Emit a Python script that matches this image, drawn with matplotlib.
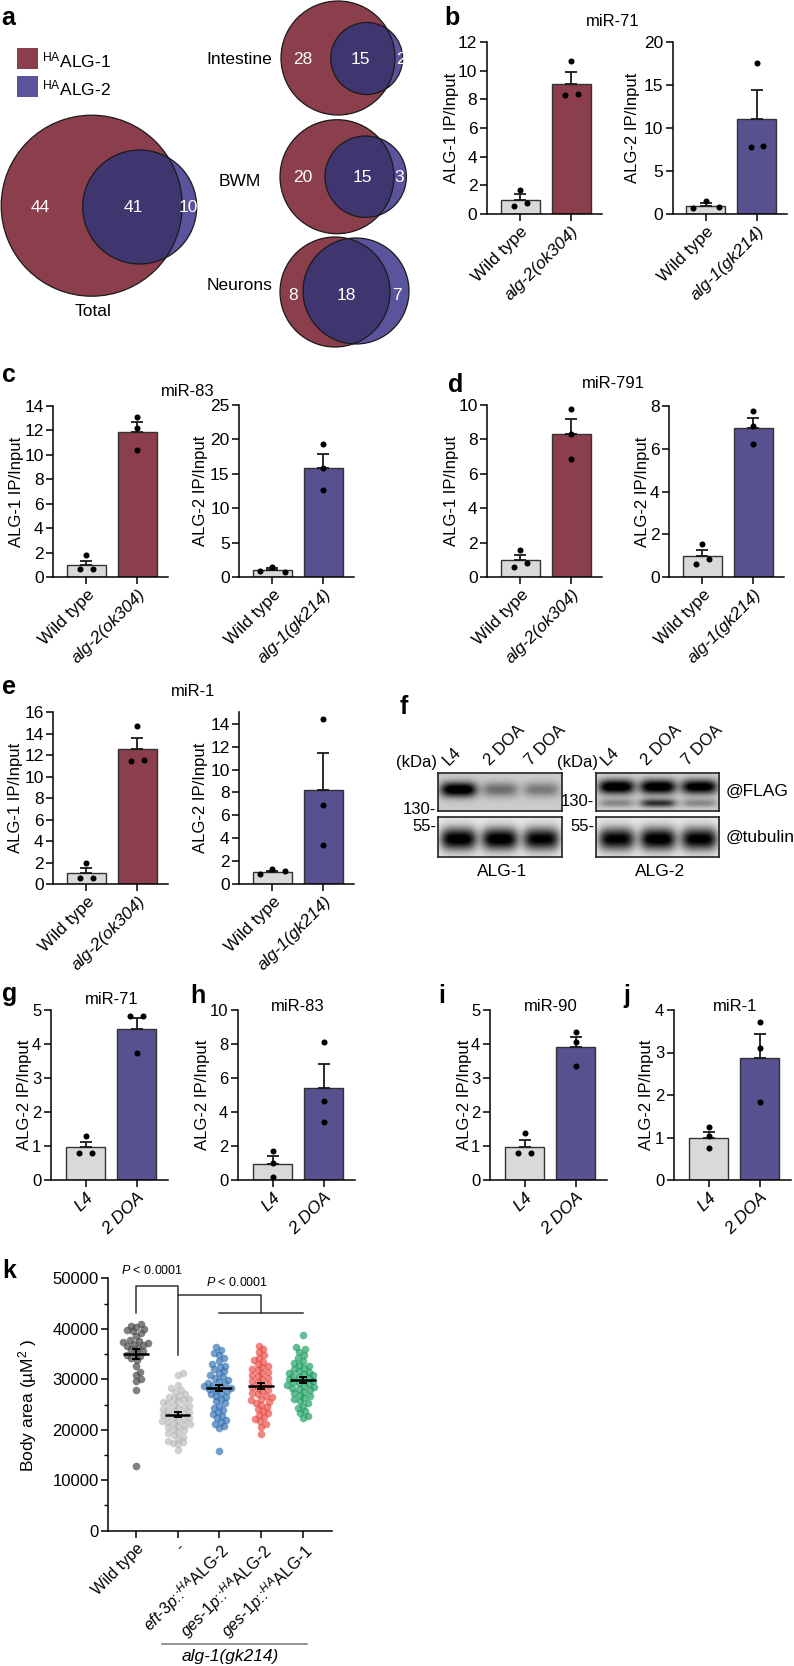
import numpy as np
import matplotlib
matplotlib.use('Agg')
import matplotlib.pyplot as plt
from matplotlib.patches import Circle, Rectangle
from matplotlib.lines import Line2D

plt.rcParams['font.family'] = ['Liberation Sans', 'DejaVu Sans']
plt.rcParams['mathtext.fontset'] = 'custom'
plt.rcParams['mathtext.rm'] = 'Liberation Sans'
plt.rcParams['mathtext.it'] = 'Liberation Sans:italic'
plt.rcParams['mathtext.bf'] = 'Liberation Sans:bold'
plt.rcParams['axes.linewidth'] = 1.1

# ---------------- DATA ----------------
venn_sets = ['Total', 'Intestine', 'BWM', 'Neurons']
venn_alg1_only = [44, 28, 20, 8]
venn_both = [41, 15, 15, 18]
venn_alg2_only = [10, 2, 3, 7]

mut_labels_1 = ['Wild type', 'alg-2(ok304)']
mut_labels_2 = ['Wild type', 'alg-1(gk214)']
age_labels = ['L4', '2 DOA']

# b: miR-71
b1_means = [1.0, 9.06];  b1_err = [0.37, 0.84]
b1_wt = [0.56, 1.68, 0.79]; b1_mut = [8.32, 10.65, 8.35]
b2_means = [0.97, 11.07]; b2_err = [0.3, 3.33]
b2_wt = [0.66, 1.51, 0.85]; b2_mut = [7.84, 17.55, 7.96]
# c: miR-83
c1_means = [0.98, 11.85]; c1_err = [0.38, 0.85]
c1_wt = [0.65, 1.82, 0.65]; c1_mut = [13.04, 12.2, 10.38]
c2_means = [1.06, 15.9]; c2_err = [0.25, 2.0]
c2_wt = [0.92, 1.55, 0.82]; c2_mut = [19.4, 15.8, 12.6]
# d: miR-791
d1_means = [1.0, 8.3]; d1_err = [0.3, 0.87]
d1_wt = [0.62, 1.59, 0.85]; d1_mut = [9.75, 8.32, 6.89]
d2_means = [0.99, 6.97]; d2_err = [0.28, 0.47]
d2_wt = [0.62, 1.54, 0.87]; d2_mut = [7.76, 7.05, 6.21]
# e: miR-1
e1_means = [0.99, 12.55]; e1_err = [0.47, 1.08]
e1_wt = [0.56, 1.93, 0.56]; e1_mut = [11.46, 14.75, 11.55]
e2_means = [1.01, 8.24]; e2_err = [0.12, 3.24]
e2_wt = [0.84, 1.3, 1.13]; e2_mut = [14.38, 6.94, 3.38]
# g-j: ALG-2 IP, L4 vs 2 DOA
g_means = [0.98, 4.44]; g_err = [0.15, 0.33]
g_l4 = [0.8, 1.29, 0.8]; g_doa = [4.83, 3.75, 4.83]
h_means = [0.96, 5.39]; h_err = [0.45, 1.41]
h_l4 = [1.73, 1.02, 0.2]; h_doa = [8.1, 4.67, 3.43]
i_means = [0.98, 3.92]; i_err = [0.2, 0.3]
i_l4 = [0.78, 1.37, 0.8]; i_doa = [4.36, 4.07, 3.35]
j_means = [0.98, 2.88]; j_err = [0.14, 0.55]
j_l4 = [1.25, 1.03, 0.75]; j_doa = [3.71, 3.1, 1.84]

# f: western blot band intensities (relative darkness per lane)
blot_lanes = ['L4', '2 DOA', '7 DOA']
alg1_flag = [0.95, 0.38, 0.33]
alg1_tub = [1.0, 1.0, 0.95]
alg2_flag_upper = [0.97, 0.97, 0.93]
alg2_flag_lower = [0.3, 0.65, 0.3]
alg2_tub = [0.95, 1.0, 0.97]

# k: body area
k_labels = ['Wild type', '-', 'eft-3p::HA ALG-2', 'ges-1p::HA ALG-2', 'ges-1p::HA ALG-1']
k_wt = [40900, 40600, 40300, 40000, 39800, 39500, 39200, 38600, 37800, 37600, 37400,
        37200, 37000, 36800, 36500, 36200, 35900, 35600, 35200, 34900, 34600, 34200,
        33800, 32700, 31500, 30800, 30100, 29600, 27800, 12900]
k_mut = [31300, 30900, 28800, 28300, 27800, 27500, 27000, 26700, 26500, 26300, 26000,
         25800, 25600, 25400, 25200, 25000, 24800, 24600, 24400, 24200, 24000, 23800,
         23600, 23400, 23200, 23000, 22800, 22600, 22400, 22200, 22000, 21800, 21600,
         21400, 21200, 21000, 20800, 20500, 20200, 19900, 19600, 19300, 19000, 18600,
         18200, 17800, 17500, 17300, 17100, 16000]
k_eft = [36300, 35800, 35300, 34800, 34300, 33600, 33000, 32700, 32400, 32000, 31600,
         31300, 30800, 30500, 30200, 29900, 29600, 29300, 29000, 28800, 28600, 28400,
         28200, 28000, 27800, 27600, 27300, 27000, 26700, 26400, 26000, 25600, 25200,
         24800, 24400, 24000, 23600, 23200, 22800, 22400, 22000, 21600, 21200, 20800,
         20400, 15700]
k_ges2 = [36600, 36000, 35400, 34800, 34300, 33900, 33500, 33100, 32700, 32400, 32100,
          31800, 31500, 31200, 30900, 30600, 30300, 30000, 29700, 29400, 29100, 28800,
          28500, 28200, 27900, 27600, 27300, 27000, 26700, 26400, 26100, 25800, 25500,
          25200, 24900, 24500, 24100, 23700, 23300, 22900, 22500, 22100, 21700, 21200,
          20600, 19200]
k_ges1 = [38700, 36300, 35900, 35400, 34800, 34200, 33700, 33300, 32900, 32600, 32300,
          32000, 31700, 31400, 31200, 31000, 30800, 30600, 30400, 30200, 30000, 29800,
          29600, 29400, 29200, 29000, 28800, 28600, 28400, 28200, 28000, 27800, 27500,
          27200, 26900, 26600, 26300, 26000, 25700, 25300, 24800, 24300, 23800, 23300,
          22800, 22300]
k_means = [35000, 23000, 28300, 28700, 29800]
k_sem = [950, 550, 650, 600, 550]

# ---------------- STYLE ----------------
RED = '#8b3f4c'
BLUE = '#57518f'
GRAY = '#d9d9d9'
V_RED = '#8b3e4b'
V_BLUE = '#5a549c'
V_OVER = '#3f3670'
K_COLORS = ['#4a4a4a', '#b3b3b3', '#2a6cae', '#e8463f', '#14985a']
K_ALPHA = [0.7, 0.6, 0.65, 0.65, 0.65]

W, H = 794, 1666
fig = plt.figure(figsize=(W / 100, H / 100), dpi=100)


def add_ax(left, top, width, height):
    return fig.add_axes([left / W, 1 - (top + height) / H, width / W, height / H])


def T(x, y, s, **kw):
    return fig.text(x / W, 1 - y / H, s, **kw)


def cluster_offsets(vals, px_per_unit, thresh=6.0, step=12.7):
    vals = np.asarray(vals, float)
    order = np.argsort(vals, kind='stable')
    clusters, cur = [], [order[0]]
    for a, b in zip(order[:-1], order[1:]):
        if (vals[b] - vals[a]) * px_per_unit < thresh:
            cur.append(b)
        else:
            clusters.append(cur)
            cur = [b]
    clusters.append(cur)
    offs = np.zeros(len(vals))
    for c in clusters:
        c = sorted(c)
        m = len(c)
        for k, idx in enumerate(c):
            offs[idx] = (k - (m - 1) / 2) * step
    return offs


def bar_panel(left, top, bottom, ymax, yticks, labels, means, errs, pts, colors,
              ylabel, ylabel_dx, xlim=(-0.65, 1.6), span=51.0, italic=(1,),
              tick_fs=12.5, xtick_fs=12.5):
    width = (xlim[1] - xlim[0]) * span
    ax = add_ax(left, top, width, bottom - top)
    ax.set_xlim(*xlim)
    ax.set_ylim(0, ymax)
    x = np.arange(len(means))
    ax.bar(x, means, width=0.76, color=colors, edgecolor='#333333', linewidth=1.0, zorder=2)
    ax.errorbar(x, means, yerr=np.vstack([np.zeros(len(errs)), errs]), fmt='none',
                ecolor='#1a1a1a', elinewidth=1.3, capsize=4, capthick=1.3, zorder=3)
    ppu = (bottom - top) / ymax
    for i, p in enumerate(pts):
        offs = cluster_offsets(p, ppu)
        ax.scatter(i + offs / span, p, s=19, color='black', linewidths=0, zorder=4,
                   clip_on=False)
    for s in ['top', 'right']:
        ax.spines[s].set_visible(False)
    ax.set_yticks(yticks)
    ax.set_xticks(x)
    ax.set_xticklabels(labels, rotation=45, ha='right', rotation_mode='anchor',
                       fontsize=xtick_fs)
    for idx in italic:
        ax.get_xticklabels()[idx].set_fontstyle('italic')
    ax.tick_params(axis='both', direction='out', length=5, width=1.1, pad=2)
    ax.tick_params(axis='y', labelsize=tick_fs)
    T(left - ylabel_dx, (top + bottom) / 2, ylabel, rotation=90, ha='center',
      va='center', fontsize=12)
    return ax


# ---------------- PANEL A (Venn) ----------------
ax_a = add_ax(0, 0, 410, 350)
ax_a.set_xlim(0, 410)
ax_a.set_ylim(350, 0)
ax_a.axis('off')

venn_geom = [  # (red cx, cy, r), (blue cx, cy, r), label positions (x1, x12, x2, y)
    ((91.7, 205.7, 90.5), (139.7, 207.0, 57.0), (40, 133, 188, 208)),
    ((338.0, 58.0, 57.0), (366.7, 58.5, 36.0), (303, 360, 401, 59)),
    ((337.0, 176.7, 57.0), (365.7, 176.7, 40.7), (303, 362, 399, 177)),
    ((335.0, 292.0, 55.0), (356.0, 291.0, 53.0), (293, 346, 397, 295)),
]
for k, (rc, bc, lp) in enumerate(venn_geom):
    red = Circle(rc[:2], rc[2], facecolor=V_RED, edgecolor='none', zorder=1)
    ax_a.add_patch(red)
    blue = Circle(bc[:2], bc[2], facecolor=V_BLUE, edgecolor='none', zorder=2)
    ax_a.add_patch(blue)
    over = Circle(bc[:2], bc[2], facecolor=V_OVER, edgecolor='none', zorder=3)
    ax_a.add_patch(over)
    over.set_clip_path(red)
    ax_a.add_patch(Circle(rc[:2], rc[2], facecolor='none', edgecolor='#1a1a1a', lw=0.9, zorder=4))
    ax_a.add_patch(Circle(bc[:2], bc[2], facecolor='none', edgecolor='#1a1a1a', lw=0.9, zorder=4))
    for xx, val in zip(lp[:3], [venn_alg1_only[k], venn_both[k], venn_alg2_only[k]]):
        ax_a.text(xx, lp[3], str(val), color='white', fontsize=12.5, ha='center',
                  va='center', zorder=5)

T(93, 311, venn_sets[0], fontsize=12.5, ha='center', va='center')
T(272, 60, venn_sets[1], fontsize=12.5, ha='right', va='center')
T(240, 182, venn_sets[2], fontsize=12.5, ha='center', va='center')
T(272, 286, venn_sets[3], fontsize=12.5, ha='right', va='center')

ax_a.add_patch(Rectangle((17, 48), 21, 21, facecolor=V_RED, edgecolor='none'))
ax_a.add_patch(Rectangle((17, 76), 21, 21, facecolor=V_BLUE, edgecolor='none'))
T(42, 60, r'$^{\mathrm{HA}}$ALG-1', fontsize=12.5, ha='left', va='center')
T(42, 88, r'$^{\mathrm{HA}}$ALG-2', fontsize=12.5, ha='left', va='center')

# ---------------- PANEL LETTERS ----------------
for lt, x, y in [('a', 1, 25), ('b', 444, 25), ('c', 2, 382), ('d', 448, 392),
                 ('e', 2, 694), ('f', 400, 714), ('g', 2, 1001), ('h', 190, 1003),
                 ('i', 438, 1003), ('j', 623, 1003), ('k', 2, 1278)]:
    T(x, y, lt, fontsize=18, fontweight='bold', ha='left', va='baseline')

# ---------------- PANELS B-E ----------------
T(613, 22, 'miR-71', fontsize=12, ha='center', va='center')
bar_panel(487, 42, 214, 12, np.arange(0, 13, 2), mut_labels_1, b1_means, b1_err,
          [b1_wt, b1_mut], [GRAY, RED], 'ALG-1 IP/Input', 35)
bar_panel(672.7, 42, 214, 20, np.arange(0, 21, 5), mut_labels_2, b2_means, b2_err,
          [b2_wt, b2_mut], [GRAY, BLUE], 'ALG-2 IP/Input', 40)

T(188, 392, 'miR-83', fontsize=12, ha='center', va='center')
bar_panel(53.3, 405.7, 577.3, 14, np.arange(0, 15, 2), mut_labels_1, c1_means, c1_err,
          [c1_wt, c1_mut], [GRAY, RED], 'ALG-1 IP/Input', 36.6)
bar_panel(239.3, 405.0, 577.3, 25, np.arange(0, 26, 5), mut_labels_2, c2_means, c2_err,
          [c2_wt, c2_mut], [GRAY, BLUE], 'ALG-2 IP/Input', 39)

T(613, 383, 'miR-791', fontsize=12, ha='center', va='center')
bar_panel(487.3, 405.0, 577.3, 10, np.arange(0, 11, 2), mut_labels_1, d1_means, d1_err,
          [d1_wt, d1_mut], [GRAY, RED], 'ALG-1 IP/Input', 35.6)
bar_panel(669.3, 405.7, 577.3, 8, np.arange(0, 9, 2), mut_labels_2, d2_means, d2_err,
          [d2_wt, d2_mut], [GRAY, BLUE], 'ALG-2 IP/Input', 27)

T(193, 692, 'miR-1', fontsize=12, ha='center', va='center')
bar_panel(53.3, 712.3, 884, 16, np.arange(0, 17, 2), mut_labels_1, e1_means, e1_err,
          [e1_wt, e1_mut], [GRAY, RED], 'ALG-1 IP/Input', 38)
bar_panel(239.3, 712.3, 884, 15, np.arange(0, 15, 2), mut_labels_2, e2_means, e2_err,
          [e2_wt, e2_mut], [GRAY, BLUE], 'ALG-2 IP/Input', 39)

# ---------------- PANEL F (blot) ----------------

def blot(left, top, right, bottom, bands, bg):
    ax = add_ax(left, top, right - left, bottom - top)
    ny, nx = 80, 300
    yy, xx = np.mgrid[0:ny, 0:nx]
    yf = (yy + 0.5) / ny
    xf = (xx + 0.5) / nx * 3
    img = np.full((ny, nx), bg)
    for ycen, wy, inten in bands:
        for lane, val in enumerate(inten):
            cx = lane + 0.5
            prof = np.exp(-np.abs((xf - cx) / 0.44) ** 4) * np.exp(-((yf - ycen) / wy) ** 2)
            img = img + val * prof
    img = np.clip(img, 0, 1)
    ax.imshow(img, cmap='gray_r', vmin=0, vmax=1.0, aspect='auto', extent=[0, 3, 1, 0],
              interpolation='bilinear')
    ax.set_xticks([])
    ax.set_yticks([])
    for s in ax.spines.values():
        s.set_linewidth(1.2)
        s.set_color('#222222')
    return ax


blot(438.3, 772.7, 561.7, 811, [(0.45, 0.19, alg1_flag)], 0.2)
blot(438.3, 816.7, 561.7, 856.7, [(0.55, 0.28, alg1_tub)], 0.08)
blot(595.7, 772.7, 719, 811, [(0.38, 0.19, alg2_flag_upper), (0.8, 0.11, alg2_flag_lower)], 0.17)
blot(595.7, 816.7, 719, 856.7, [(0.55, 0.28, alg2_tub)], 0.08)

for lane_x0 in (438.3, 595.7):
    lw_ = (123.3) / 3
    for k, lab in enumerate(blot_lanes):
        cx = lane_x0 + (k + 0.5) * lw_
        T(cx - 8, 768, lab, rotation=45, ha='left', va='bottom', rotation_mode='anchor',
          fontsize=12)
T(437, 763, '(kDa)', fontsize=12, ha='right', va='center')
T(598, 763, '(kDa)', fontsize=12, ha='right', va='center')
T(436, 810, '130-', fontsize=12, ha='right', va='center')
T(436, 827, '55-', fontsize=12, ha='right', va='center')
T(594, 802, '130-', fontsize=12, ha='right', va='center')
T(594, 827, '55-', fontsize=12, ha='right', va='center')
T(726, 791, '@FLAG', fontsize=12.5, ha='left', va='center')
T(726, 837, '@tubulin', fontsize=12.5, ha='left', va='center')
T(502, 871, 'ALG-1', fontsize=12.5, ha='center', va='center')
T(660, 871, 'ALG-2', fontsize=12.5, ha='center', va='center')

# ---------------- PANELS G-J ----------------
gj = [
    (51, 5, np.arange(0, 6, 1), g_means, g_err, g_l4, g_doa, 'miR-71', 111.5, 1000, 26.5),
    (238, 10, np.arange(0, 11, 2), h_means, h_err, h_l4, h_doa, 'miR-83', 298, 1007, 35),
    (490, 5, np.arange(0, 6, 1), i_means, i_err, i_l4, i_doa, 'miR-90', 551, 1007, 26),
    (674, 4, np.arange(0, 5, 1), j_means, j_err, j_l4, j_doa, 'miR-1', 735, 1007, 27),
]
for left, ymax, yt, mn, er, p1, p2, title, tx, ty, ldx in gj:
    bar_panel(left, 1010, 1180, ymax, yt, age_labels, mn, er, [p1, p2], [GRAY, BLUE],
              'ALG-2 IP/Input', ldx, xlim=(-0.68, 1.62), italic=(0, 1), tick_fs=12,
              xtick_fs=12.5)
    T(tx, ty, title, fontsize=12, ha='center', va='center')

# ---------------- PANEL K ----------------

def swarm_offsets(vals, yscale, d):
    vals = np.asarray(vals, float)
    order = np.argsort(vals)
    xs = np.zeros(len(vals))
    placed = []
    for i in order:
        y = vals[i] * yscale
        cands = [0.0]
        near = []
        for px, py in placed:
            dy = abs(py - y)
            if dy < d:
                dx = np.sqrt(d * d - dy * dy)
                near.append((px, dx))
                cands += [px + dx, px - dx]
        cands.sort(key=lambda c: (round(abs(c), 6), -c))
        for c in cands:
            if all(abs(c - px) >= dx - 1e-6 for px, dx in near):
                xs[i] = c
                break
        placed.append((xs[i], y))
    return xs


k_left, k_top, k_w, k_h = 108.3, 1278.3, 223.4, 252.4
ax_k = add_ax(k_left, k_top, k_w, k_h)
k_xlim = (-0.66, 4.696)
ax_k.set_xlim(*k_xlim)
ax_k.set_ylim(0, 50000)
unit_px = k_w / (k_xlim[1] - k_xlim[0])
yscale = k_h / 50000
for gi, vals in enumerate([k_wt, k_mut, k_eft, k_ges2, k_ges1]):
    offs = swarm_offsets(vals, yscale, 5.6)
    ax_k.scatter(gi + offs / unit_px, vals, s=30, color=K_COLORS[gi], alpha=K_ALPHA[gi],
                 linewidths=0, zorder=2)
xk = np.arange(5)
ax_k.hlines(k_means, xk - 0.31, xk + 0.31, color='black', lw=1.8, zorder=5)
ax_k.errorbar(xk, k_means, yerr=k_sem, fmt='none', ecolor='black', elinewidth=1.4,
              capsize=3, capthick=1.4, zorder=5)
for s in ['top', 'right']:
    ax_k.spines[s].set_visible(False)
ax_k.set_yticks(np.arange(0, 50001, 10000))
ax_k.set_yticks(np.arange(5000, 50000, 10000), minor=True)
ax_k.tick_params(axis='y', which='major', direction='out', length=5, width=1.1,
                 labelsize=12, pad=2)
ax_k.tick_params(axis='y', which='minor', direction='out', length=3, width=1.0)
ax_k.set_xticks(xk)
k_tick_text = ['Wild type', '-',
               r'$\mathit{eft}$-$\mathit{3p}$::$^{\mathit{HA}}$ALG-2',
               r'$\mathit{ges}$-$\mathit{1p}$::$^{\mathit{HA}}$ALG-2',
               r'$\mathit{ges}$-$\mathit{1p}$::$^{\mathit{HA}}$ALG-1']
ax_k.set_xticklabels(k_tick_text, rotation=45, ha='right', rotation_mode='anchor',
                     fontsize=11.5)
ax_k.tick_params(axis='x', direction='out', length=5, width=1.1, pad=2)

# significance brackets
br_kw = dict(color='#333333', lw=1.1, clip_on=False, zorder=6)
ax_k.plot([0, 0, 1, 1], [43100, 48475, 48475, 34780], **br_kw)
ax_k.plot([1, 3, 3], [46700, 46700, 43100], **br_kw)
ax_k.plot([2, 4], [43100, 43100], **br_kw)
ax_k.text(0.38, 51500, r'$P$ < 0.0001', fontsize=9, ha='center', va='center')
ax_k.text(2.42, 49100, r'$P$ < 0.0001', fontsize=9, ha='center', va='center')

T(28, 1405, r'Body area (µM$^{2}$ )', rotation=90, fontsize=12.5, ha='center', va='center')
fig.add_artist(Line2D([161.7 / W, 306.7 / W], [1 - 1644.3 / H] * 2,
                      transform=fig.transFigure, color='#777777', lw=1.1))
T(230, 1657, 'alg-1(gk214)', fontsize=12.5, fontstyle='italic', ha='center', va='center')

fig.savefig('out.png', dpi=100)
